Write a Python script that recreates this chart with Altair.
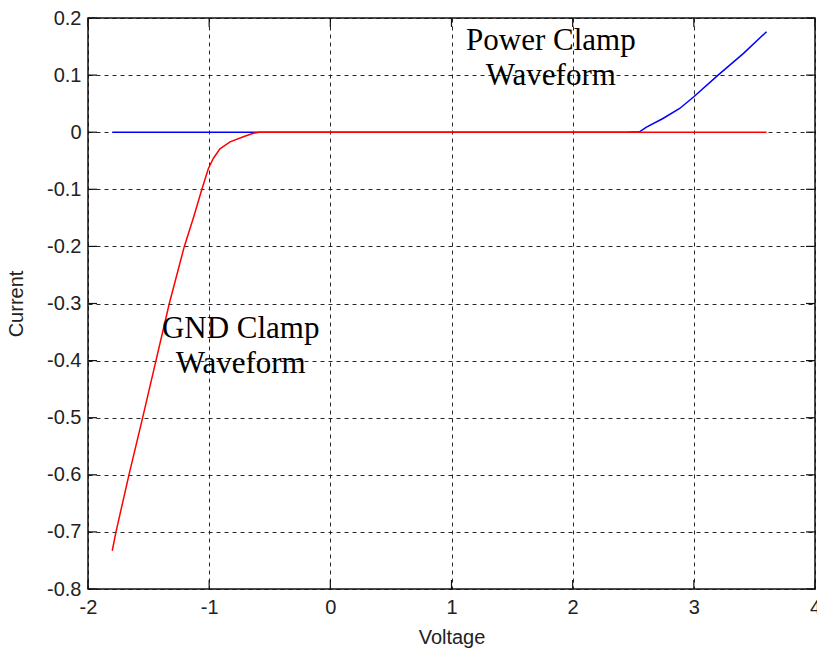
import altair as alt
import pandas as pd

# GND clamp waveform (red)
gnd_v = [-1.8, -1.769, -1.662, -1.549, -1.439, -1.329, -1.205, -1.13, -1.06, -1.007, -0.966,
         -0.911, -0.828, -0.718, -0.636, -0.59, 3.6]
gnd_i = [-0.733, -0.70, -0.60, -0.50, -0.40, -0.30, -0.20, -0.15, -0.10, -0.064, -0.046,
         -0.029, -0.017, -0.008, -0.002, 0.0, 0.0]

# Power clamp waveform (blue)
pwr_v = [-1.8, 2.444, 2.555, 2.609, 2.745, 2.883, 3.0, 3.2, 3.41, 3.6]
pwr_i = [0.0, 0.0, 0.001, 0.009, 0.024, 0.0415, 0.062, 0.1, 0.138, 0.176]

x_ticks = [-2, -1, 0, 1, 2, 3, 4]
y_ticks = [-0.8, -0.7, -0.6, -0.5, -0.4, -0.3, -0.2, -0.1, 0, 0.1, 0.2]

ann_text = ["Power Clamp", "Waveform", "GND Clamp", "Waveform"]
ann_x = [1.82, 1.82, -0.74, -0.74]
ann_y = [0.1436, 0.0823, -0.3608, -0.422]

W, H = 727, 571

gnd = pd.DataFrame({"v": gnd_v, "i": gnd_i})
pwr = pd.DataFrame({"v": pwr_v, "i": pwr_i})
xt = pd.DataFrame({"v": x_ticks})
yt = pd.DataFrame({"i": y_ticks})
ann = pd.DataFrame({"v": ann_x, "i": ann_y, "t": ann_text})

xscale = alt.Scale(domain=[-2, 4], nice=False, zero=False)
yscale = alt.Scale(domain=[-0.8, 0.2], nice=False, zero=False)

axis_common = dict(
    grid=True, gridColor="#111", gridDash=[4, 4], gridWidth=1, gridOpacity=0.9,
    ticks=False, domain=False,
    labelFont="Liberation Sans", labelFontSize=20, labelColor="#222",
    titleFont="Liberation Sans", titleFontSize=20, titleFontWeight="normal", titleColor="#222",
    labelExpr="toString(datum.value)",
)

xaxis = alt.Axis(values=x_ticks, title="Voltage", labelPadding=8, titleY=38,
                 labelFlush=False, **axis_common)
yaxis = alt.Axis(values=y_ticks, title="Current", labelPadding=7, titleX=-62,
                 titleY=H / 2, titleAngle=-90, titleBaseline="bottom",
                 labelFlush=False, **axis_common)

X = alt.X("v:Q", scale=xscale, axis=xaxis)
Y = alt.Y("i:Q", scale=yscale, axis=yaxis)

blue = alt.Chart(pwr).mark_line(color="#0000ff", strokeWidth=1.5).encode(x=X, y=Y)
red = alt.Chart(gnd).mark_line(color="#ff0000", strokeWidth=1.5).encode(x=X, y=Y)

TL = 9
tick_style = dict(color="#111", strokeWidth=1.2)
xt_bottom = alt.Chart(xt).mark_rule(**tick_style).encode(
    x=X, y=alt.value(H), y2=alt.value(H - TL))
xt_top = alt.Chart(xt).mark_rule(**tick_style).encode(
    x=X, y=alt.value(0), y2=alt.value(TL))
yt_left = alt.Chart(yt).mark_rule(**tick_style).encode(
    y=Y, x=alt.value(0), x2=alt.value(TL))
yt_right = alt.Chart(yt).mark_rule(**tick_style).encode(
    y=Y, x=alt.value(W), x2=alt.value(W - TL))

labels = alt.Chart(ann).mark_text(
    font="Liberation Serif", fontSize=31, color="#000", align="center", baseline="alphabetic"
).encode(x=X, y=Y, text="t:N")

chart = alt.layer(blue, red, xt_bottom, xt_top, yt_left, yt_right, labels).properties(
    width=W, height=H,
    autosize=alt.AutoSizeParams(type="none"),
    padding={"left": 88, "top": 18, "right": 2, "bottom": 60},
    background="white",
).configure_view(stroke="#111", strokeWidth=1.5)

chart.save("out.html", embed_options={"renderer": "svg", "actions": False})
